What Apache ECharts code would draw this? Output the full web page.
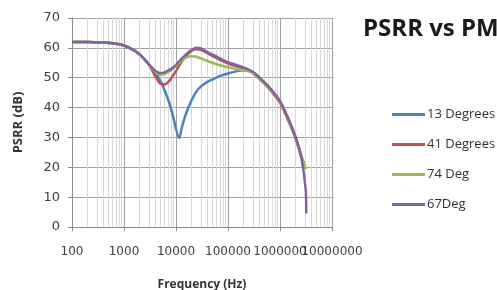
<!DOCTYPE html>
<html>
<head>
<meta charset="utf-8">
<script src="https://cdn.jsdelivr.net/npm/echarts@6/dist/echarts.min.js"></script>
<style>
  html, body { margin: 0; padding: 0; background: #fff; }
  #chart { width: 497px; height: 290px; }
</style>
</head>
<body>
<div id="chart"></div>
<script>
// frequency points (Hz), shared by all curves
const freqs = [100, 200, 400, 700, 1000, 1500, 2000, 3000, 4000, 5000, 6000, 7500, 9000, 11500, 13000, 16000, 20000, 25000, 30000, 40000, 50000, 70000, 100000, 150000, 200000, 300000, 500000, 700000, 1000000, 1500000, 2000000, 2500000, 3100000, 3200000];

// PSRR (dB)
const deg13 = [62, 62, 61.8, 61.4, 60.8, 59.3, 57.8, 54.5, 51.8, 49, 45.9, 41.3, 36.3, 29.8, 33.5, 38.5, 42.5, 45.5, 47, 48.6, 49.4, 50.6, 51.4, 52.2, 52.5, 51.8, 48.3, 45.5, 42, 35.5, 30, 24.5, 19.5, null];
const deg41 = [62, 62, 61.8, 61.4, 60.8, 59.3, 57.8, 54.5, 50.5, 48, 47.8, 49, 51, 54, 55.5, 57.5, 59, 59.5, 59.3, 58.2, 57.3, 56, 54.7, 53.7, 53, 51.6, 48, 45.2, 41.6, 35, 29.5, 24, 19.5, null];
const deg74 = [62, 62, 61.8, 61.4, 60.8, 59.3, 57.8, 54.5, 52, 51, 51.2, 52.2, 53.3, 55, 55.8, 56.8, 57.2, 57, 56.5, 55.6, 55, 54.2, 53.5, 52.8, 52.5, 51.6, 48.3, 45.5, 42, 35.5, 30, 24.5, 19.5, null];
const deg67 = [62, 62, 61.8, 61.4, 60.8, 59.3, 57.8, 54.5, 52.3, 51.6, 51.8, 52.6, 53.5, 55.5, 56.5, 58, 59.3, 60, 59.8, 58.6, 57.8, 56.5, 55.2, 54.2, 53.4, 52, 48.5, 45.8, 42.2, 35.7, 30, 24.5, 13, 4.5];

const seriesNames = ["13 Degrees", "41 Degrees", "74 Deg", "67Deg"];
const seriesValues = [deg13, deg41, deg74, deg67];
const colors = ["#4f81bd", "#c0504d", "#9bbb59", "#8064a2"];

// decade labels are split over two stacked axes so the crowded ones all show
const labelsA = [100, 10000, 1000000];
const labelsB = [1000, 100000, 10000000];

const chart = echarts.init(document.getElementById("chart"), null, { renderer: "canvas" });

const labelStyle = {
  margin: 19,
  fontFamily: "DejaVu Sans",
  fontSize: 12,
  color: "#404040",
  showMinLabel: true,
  showMaxLabel: true,
  hideOverlap: false,
};

const option = {
  animation: false,
  color: colors,
  title: {
    text: "PSRR vs PM",
    left: 358,
    top: 12,
    textStyle: { fontFamily: "Open Sans", fontWeight: "bold", fontSize: 24, color: "#1a1a1a" },
  },
  legend: {
    orient: "vertical",
    left: 387,
    top: 103,
    icon: "rect",
    itemWidth: 33,
    itemHeight: 3,
    itemGap: 17,
    data: seriesNames,
    textStyle: { fontFamily: "Open Sans", fontSize: 13, color: "#333", padding: [0, 0, 0, -3] },
  },
  grid: { left: 72, right: 165, top: 18, bottom: 63, outerBoundsMode: "none", containLabel: false },
  xAxis: [
    {
      type: "log",
      logBase: 10,
      min: 100,
      max: 10000000,
      position: "bottom",
      name: "Frequency (Hz)",
      nameLocation: "middle",
      nameGap: 52,
      nameTextStyle: { fontFamily: "Open Sans", fontWeight: "bold", fontSize: 12, color: "#333" },
      axisLine: { lineStyle: { color: "#8c8c8c", width: 1 } },
      axisTick: { show: true, length: 4, lineStyle: { color: "#8c8c8c" } },
      axisLabel: Object.assign({}, labelStyle, {
        formatter: (v) => (labelsA.includes(Math.round(v)) ? String(Math.round(v)) : ""),
      }),
      splitLine: { show: true, lineStyle: { color: "#a0a0a0", width: 1 } },
      minorTick: { show: false, splitNumber: 9 },
      minorSplitLine: { show: true, lineStyle: { color: "#d8d8d8", width: 1 } },
    },
    {
      type: "log",
      logBase: 10,
      min: 100,
      max: 10000000,
      position: "bottom",
      offset: 0,
      axisLine: { show: false },
      axisTick: { show: false },
      splitLine: { show: false },
      axisLabel: Object.assign({}, labelStyle, {
        formatter: (v) => (labelsB.includes(Math.round(v)) ? String(Math.round(v)) : ""),
      }),
    },
  ],
  yAxis: {
    type: "value",
    min: 0,
    max: 70,
    interval: 10,
    name: "PSRR (dB)",
    nameLocation: "middle",
    nameGap: 47,
    nameTextStyle: { fontFamily: "Open Sans", fontWeight: "bold", fontSize: 13, color: "#333" },
    axisLine: { show: true, lineStyle: { color: "#8c8c8c" } },
    axisTick: { show: true, length: 4, lineStyle: { color: "#8c8c8c" } },
    axisLabel: { margin: 12, fontFamily: "DejaVu Sans", fontSize: 13, color: "#404040" },
    splitLine: { show: true, lineStyle: { color: "#a0a0a0", width: 1 } },
  },
  series: seriesNames.map((name, i) => ({
    name: name,
    type: "line",
    xAxisIndex: 0,
    symbol: "none",
    smooth: 0.3,
    connectNulls: false,
    lineStyle: { width: 2.5, color: colors[i] },
    data: freqs.map((f, j) => [f, seriesValues[i][j]]),
  })),
};

chart.setOption(option);
</script>
</body>
</html>
